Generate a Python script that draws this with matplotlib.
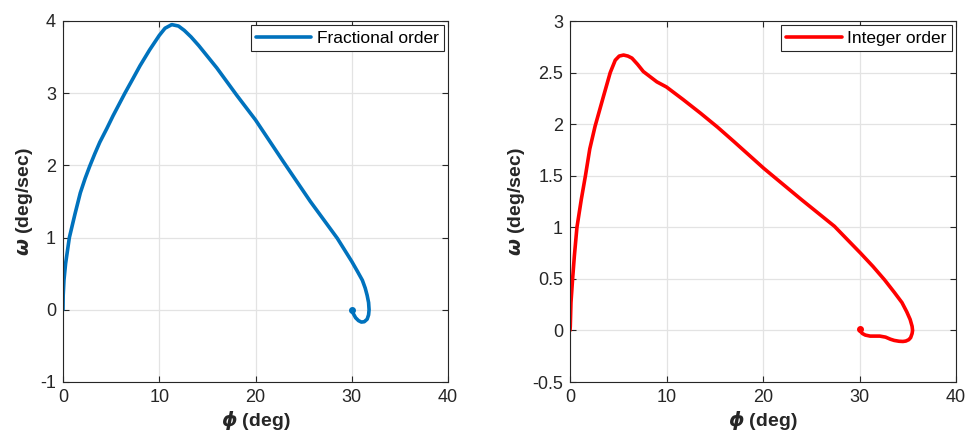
import matplotlib
matplotlib.use("Agg")
import matplotlib.pyplot as plt

plt.rcParams['font.family'] = ['Liberation Sans', 'DejaVu Sans']
plt.rcParams['mathtext.fontset'] = 'custom'
plt.rcParams['mathtext.it'] = 'DejaVu Sans:italic:bold'
plt.rcParams['mathtext.rm'] = 'Liberation Sans:bold'
plt.rcParams['axes.unicode_minus'] = False

# Fractional order trajectory (phi in deg, omega in deg/sec)
frac_phi = [0.0, 0.02, 0.1, 0.27, 0.66, 1.25, 1.8, 2.3, 2.78, 3.3, 3.82, 4.55, 5.21, 6.43,
            7.26, 8.0, 9.0, 10.0, 10.6, 11.3, 12.0, 12.6, 13.3, 14.1, 15.98,
            18.06, 20.0, 22.9, 25.7, 28.5, 30.0, 30.6, 31.1, 31.4, 31.6, 31.75, 31.8,
            31.75, 31.6, 31.3, 31.0, 30.7, 30.4, 30.15, 30.0]
frac_omega = [0.0, 0.2, 0.41, 0.64, 1.0, 1.33, 1.62, 1.82, 1.99, 2.16, 2.32, 2.51, 2.69, 3.0,
              3.2, 3.38, 3.6, 3.8, 3.9, 3.95, 3.93, 3.87, 3.78, 3.66, 3.35,
              2.97, 2.63, 2.05, 1.50, 0.99, 0.67, 0.53, 0.41, 0.3, 0.2, 0.1, 0.0,
              -0.07, -0.13, -0.165, -0.17, -0.15, -0.11, -0.05, 0.0]

# Integer order trajectory
int_phi = [0.0, 0.03, 0.1, 0.27, 0.45, 0.72, 1.17, 1.6, 2.05, 2.6, 3.47, 4.17, 4.69,
           5.1, 5.55, 6.0, 6.42, 7.0, 7.6, 8.3, 9.0, 10.0, 11.7, 13.54, 15.3, 17.0,
           20.1, 23.96, 27.4, 28.8, 30.1, 31.4, 32.6, 33.6, 34.4, 34.9, 35.25, 35.45,
           35.5, 35.45, 35.3, 35.1, 34.8, 34.5, 34.1, 33.6, 33.2, 32.7, 32.1, 31.6,
           31.1, 30.6, 30.3, 30.1, 30.05]
int_omega = [0.0, 0.04, 0.27, 0.5, 0.72, 1.0, 1.27, 1.5, 1.76, 1.98, 2.27, 2.5, 2.62,
             2.66, 2.67, 2.66, 2.64, 2.58, 2.51, 2.46, 2.41, 2.36, 2.24, 2.105, 1.97, 1.83,
             1.57, 1.27, 1.01, 0.875, 0.75, 0.62, 0.49, 0.37, 0.27, 0.18, 0.106, 0.04,
             0.0, -0.03, -0.07, -0.09, -0.103, -0.107, -0.105, -0.097, -0.085, -0.065,
             -0.055, -0.055, -0.055, -0.045, -0.03, -0.01, 0.01]

xticks = [0, 10, 20, 30, 40]
left_yticks = [-1, 0, 1, 2, 3, 4]
right_yticks = [-0.5, 0, 0.5, 1, 1.5, 2, 2.5, 3]
right_yticklabels = ['-0.5', '0', '0.5', '1', '1.5', '2', '2.5', '3']

W, H = 968, 444
fig = plt.figure(figsize=(W / 100, H / 100), dpi=100)
ax1 = fig.add_axes([63 / W, 1 - 382 / H, 385 / W, 361 / H])
ax2 = fig.add_axes([570 / W, 1 - 382 / H, 386 / W, 361 / H])

tick_col = '#262626'

def style(ax, yticks, ylim, yticklabels=None):
    ax.set_xlim(0, 40)
    ax.set_ylim(*ylim)
    ax.set_xticks(xticks)
    ax.set_yticks(yticks)
    if yticklabels is not None:
        ax.set_yticklabels(yticklabels)
    ax.grid(True, color='#e3e3e3', linewidth=0.9)
    ax.set_axisbelow(True)
    ax.tick_params(direction='in', length=4, width=0.8, top=True, right=True,
                   labelsize=13, colors=tick_col, pad=5)
    for s in ax.spines.values():
        s.set_color(tick_col)
        s.set_linewidth(0.8)
    ax.set_xlabel(r'$\phi$ (deg)', fontsize=14, fontweight='bold', color=tick_col, labelpad=3)
    ax.set_ylabel(r'$\omega$ (deg/sec)', fontsize=14, fontweight='bold', color=tick_col, labelpad=4)

ax1.plot(frac_phi, frac_omega, color='#0072BD', linewidth=2.6, label='Fractional order',
         solid_capstyle='round', solid_joinstyle='round')
ax1.plot([frac_phi[-1]], [frac_omega[-1]], 'o', color='#0072BD', markersize=4)
style(ax1, left_yticks, (-1, 4))

ax2.plot(int_phi, int_omega, color='#FF0000', linewidth=2.6, label='Integer order',
         solid_capstyle='round', solid_joinstyle='round')
ax2.plot([int_phi[-1]], [int_omega[-1]], 'o', color='#FF0000', markersize=4)
style(ax2, right_yticks, (-0.5, 3), right_yticklabels)

for ax in (ax1, ax2):
    leg = ax.legend(loc='upper right', fontsize=12.5, fancybox=False, framealpha=1,
                    edgecolor='#262626', borderaxespad=0.25, handlelength=3.2,
                    handletextpad=0.3, borderpad=0.3)
    leg.get_frame().set_linewidth(0.8)
    for lh in leg.get_lines():
        lh.set_linewidth(2.6)

fig.savefig('out.png', dpi=100)
